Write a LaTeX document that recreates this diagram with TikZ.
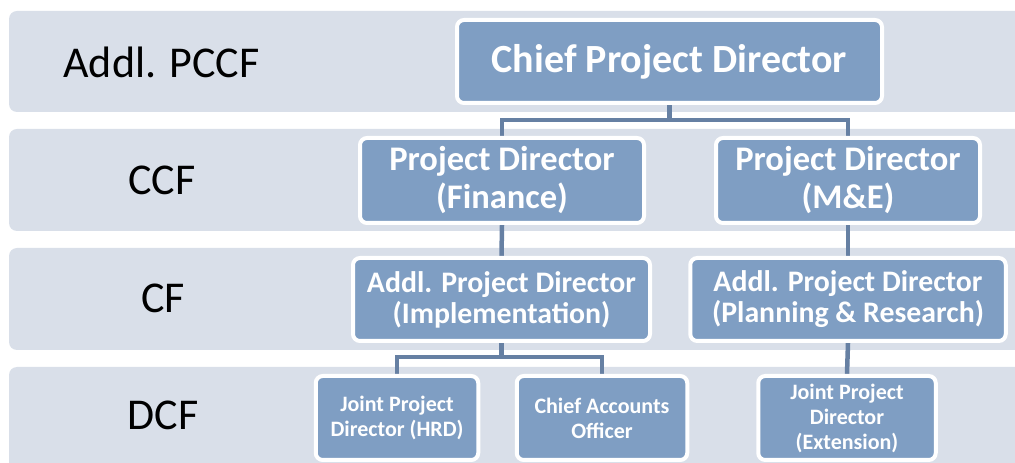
\documentclass[tikz,border=0pt]{standalone}
\usepackage{fontspec}
\setmainfont{Carlito}
\definecolor{bandc}{HTML}{D9DFE9}
\definecolor{boxc}{HTML}{7F9EC3}
\definecolor{linec}{HTML}{6680A3}
\pgfdeclarelayer{bandlayer}
\pgfdeclarelayer{linelayer}
\pgfsetlayers{bandlayer,linelayer,main}
\begin{document}
\begin{tikzpicture}[x=1pt,y=1pt,
  band/.style={fill=bandc, draw=none, rounded corners=8pt},
  orgbox/.style={draw=white, line width=4pt, fill=boxc, rounded corners=7pt, text=white, align=center, inner sep=0pt, font=\bfseries},
  lvl/.style={text=black, inner sep=0pt, font=\fontsize{44}{50}\selectfont},
  conn/.style={draw=linec, line width=4.5pt}
]
\useasboundingbox (0,0) rectangle (1015,463);
\clip (0,0) rectangle (1015,463);
% bands
\begin{pgfonlayer}{bandlayer}
\path[band] (9,452) rectangle (1040,351);
\path[band] (9,334) rectangle (1040,232);
\path[band] (9,215) rectangle (1040,113);
\path[band] (9,96) rectangle (1040,-20);
\end{pgfonlayer}
% level labels
\node[lvl] (l1) at (161.5,401) {Addl. PCCF};
\node[lvl] (l2) at (162,283) {CCF};
\node[lvl] (l3) at (163,165) {CF};
\node[lvl] (l4) at (163,48) {DCF};
% boxes
\node[orgbox, minimum width=425pt, minimum height=83pt, font=\bfseries\fontsize{40}{46}\selectfont] (chief) at (669.5,401.5) {Chief Project Director};
\node[orgbox, minimum width=284pt, minimum height=85pt, font=\bfseries\fontsize{34.5}{38}\selectfont] (fin) at (502,282.5) {Project Director\\(Finance)};
\node[orgbox, minimum width=264pt, minimum height=85pt, font=\bfseries\fontsize{34.5}{38}\selectfont] (me) at (848,282.5) {Project Director\\(M\&E)};
\node[orgbox, minimum width=297pt, minimum height=83pt, font=\bfseries\fontsize{29.8}{31}\selectfont] (impl) at (501.5,163.5) {Addl. Project Director\\(Implementation)};
\node[orgbox, minimum width=315.5pt, minimum height=83pt, font=\bfseries\fontsize{29.8}{31}\selectfont] (pr) at (848,163.5) {Addl. Project Director\\(Planning \& Research)};
\node[orgbox, minimum width=162.5pt, minimum height=84pt, font=\bfseries\fontsize{22}{25}\selectfont] (hrd) at (397,45) {Joint Project\\Director (HRD)};
\node[orgbox, minimum width=170.5pt, minimum height=84pt, font=\bfseries\fontsize{22}{25}\selectfont] (cao) at (602,45) {Chief Accounts\\Officer};
\node[orgbox, minimum width=177.5pt, minimum height=84pt, font=\bfseries\fontsize{22}{25}\selectfont] (ext) at (847,45) {Joint Project\\Director\\(Extension)};
% connectors
\coordinate (j1) at (669.5,343);
\coordinate (j2) at (501.5,106);
\begin{pgfonlayer}{linelayer}
\draw[conn] (chief.south) -- (j1) -| (fin.north);
\draw[conn] (j1) -| (me.north);
\draw[conn] (fin.south) -- (impl.north);
\draw[conn] (me.south) -- (pr.north);
\draw[conn] (impl.south) -- (j2) -| (hrd.north);
\draw[conn] (j2) -| (cao.north);
\draw[conn] (pr.south) -- (ext.north);
\end{pgfonlayer}
\end{tikzpicture}
\end{document}
